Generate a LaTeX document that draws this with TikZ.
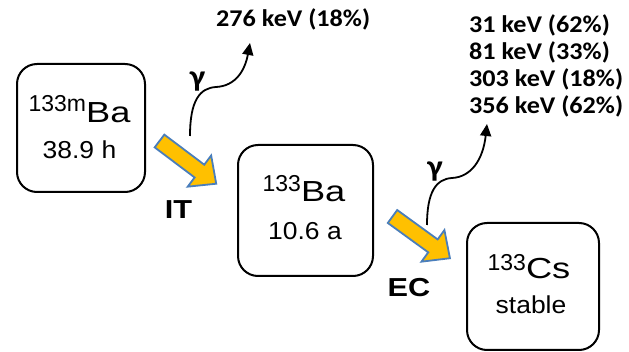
\documentclass[tikz,border=0pt]{standalone}
\usepackage{fontspec}
\usetikzlibrary{arrows.meta}

\newfontfamily\isofont{Liberation Sans}
\newfontfamily\elemfont[FakeStretch=1.25]{Liberation Sans}
\newfontfamily\lifefont[FakeStretch=1.08]{Liberation Sans}
\newfontfamily\modefont[FakeStretch=1.18]{Liberation Sans}
\newfontfamily\gammafont[FakeStretch=1.09]{Carlito}

\definecolor{decayfill}{RGB}{255,192,0}
\definecolor{decayedge}{RGB}{74,126,187}

% mass number raised before the element symbol
\newcommand{\isotope}[3]{\raisebox{#3}{\isofont\fontsize{23}{27}\selectfont #1}{\elemfont\fontsize{29}{32}\selectfont #2}}

\tikzset{
  nuclide/.style={draw, line width=2pt, rounded corners=20pt, inner sep=0pt},
  nuctext/.style={inner sep=0pt, anchor=base},
  halflife/.style={inner sep=0pt, anchor=base, font=\lifefont\fontsize{24.5}{28}\selectfont},
  decaymode/.style={inner sep=0pt, anchor=base, font=\modefont\bfseries\fontsize{26}{28}\selectfont},
  decayarrow/.style={fill=decayfill, draw=decayedge, line width=1.8pt, line join=miter},
  gammaray/.style={line width=1.8pt, -{Triangle[length=12pt,width=11pt]}},
  gammalabel/.style={inner sep=0pt, font=\gammafont\bfseries\fontsize{30}{32}\selectfont},
  energy/.style={inner sep=0pt, anchor=base west, font=\gammafont\bfseries\fontsize{24}{28}\selectfont}
}

\begin{document}
\begin{tikzpicture}[x=1pt, y=-1pt]
    \useasboundingbox (0,0) rectangle (629,352);

    % Nuclide boxes
    \node[nuclide, minimum width=128pt, minimum height=128pt] (bam) at (81,128) {};
    \node[nuclide, minimum width=135pt, minimum height=131pt] (ba) at (305.5,210.5) {};
    \node[nuclide, minimum width=132pt, minimum height=127pt] (cs) at (533,286.5) {};

    % Names and half-lives
    \node[nuctext] (bamname) at (79.5,122.7) {\isotope{133m}{Ba}{11pt}};
    \node[halflife] (bamlife) at (79.5,159) {38.9 h};
    \node[nuctext] (baname) at (304,201.7) {\isotope{133}{Ba}{10pt}};
    \node[halflife] (balife) at (305,240) {10.6 a};
    \node[nuctext] (csname) at (529,279) {\isotope{133}{Cs}{8pt}};
    \node[halflife] (cslife) at (531,314) {stable};

    % Decay arrows (block arrows)
    \begin{scope}[shift={(159.5,141)}, rotate=-37]
        \draw[decayarrow] (0,-8) -- (50,-8) -- (50,-19.5) -- (71,0) -- (50,19.5) -- (50,8) -- (0,8) -- cycle;
    \end{scope}
    \begin{scope}[shift={(392.5,216.5)}, rotate=-36]
        \draw[decayarrow] (0,-8) -- (50,-8) -- (50,-19.5) -- (71,0) -- (50,19.5) -- (50,8) -- (0,8) -- cycle;
    \end{scope}
    \node[decaymode] (itmode) at (178.5,218.3) {IT};
    \node[decaymode] (ecmode) at (409,296.7) {EC};

    % Gamma emissions
    \coordinate (itgstart) at (190,136);
    \coordinate (itgend) at (250,43);
    \draw[gammaray] (itgstart) .. controls (190,100) and (200,88) .. (216,87) .. controls (236,86) and (245,70) .. (itgend);
    \node[gammalabel] (itgamma) at (197.5,81.5) {γ};
    \node[energy] (itline) at (216,26.7) {276 keV (18\%)};

    \coordinate (ecgstart) at (427,225);
    \coordinate (ecgend) at (487,124);
    \draw[gammaray] (ecgstart) .. controls (427,192) and (436,179) .. (452,178) .. controls (471,177) and (483,160) .. (ecgend);
    \node[gammalabel] (ecgamma) at (435,172) {γ};
    \node[energy] (ecline1) at (469,32.7) {31 keV (62\%)};
    \node[energy] (ecline2) at (469,60) {81 keV (33\%)};
    \node[energy] (ecline3) at (469,87) {303 keV (18\%)};
    \node[energy] (ecline4) at (469,114) {356 keV (62\%)};
\end{tikzpicture}
\end{document}
